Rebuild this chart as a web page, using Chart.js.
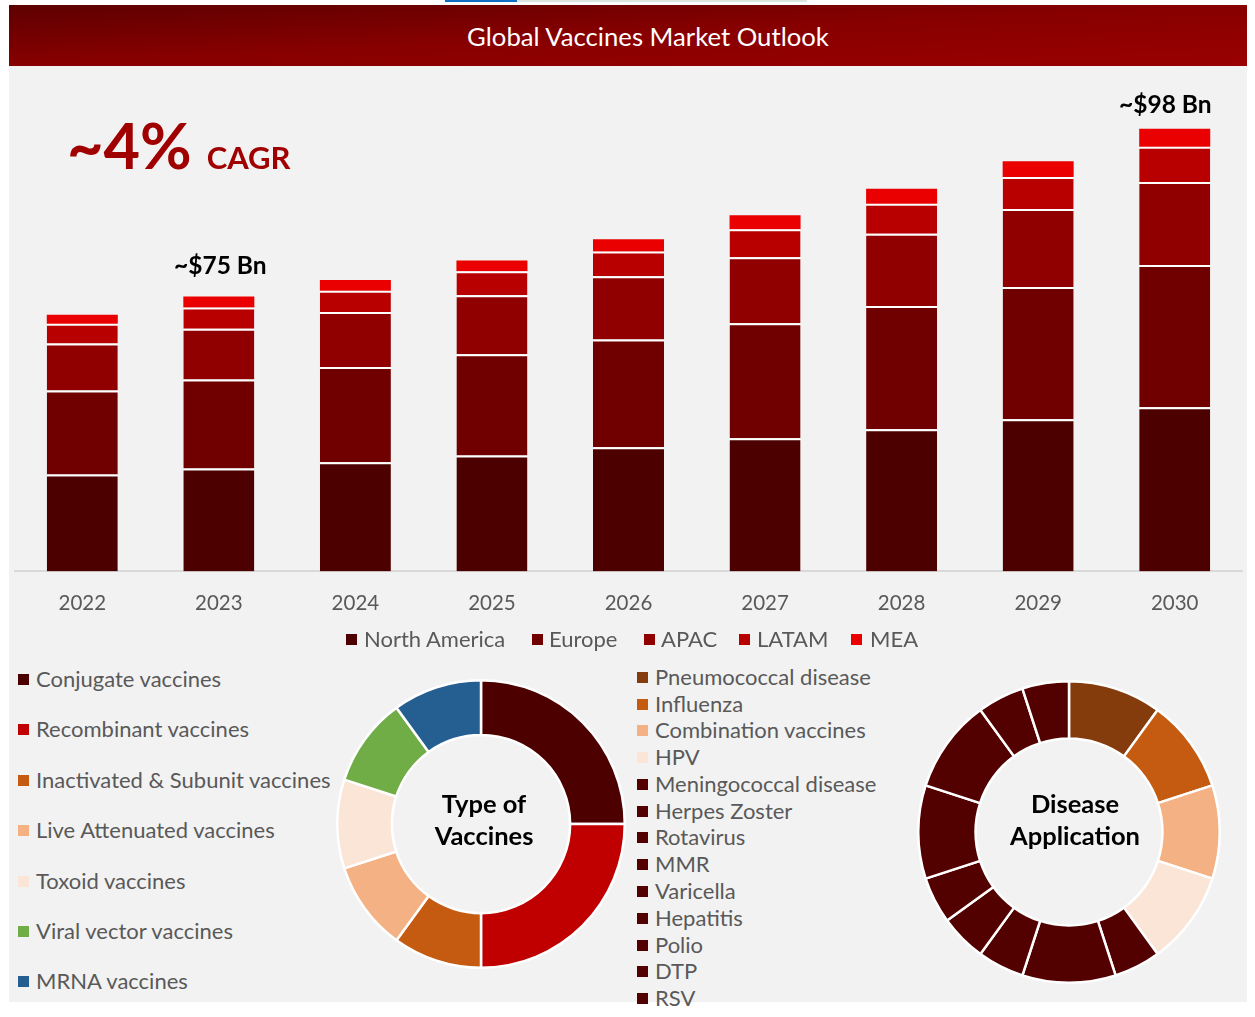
<!DOCTYPE html>
<html>
<head>
<meta charset="utf-8">
<title>Global Vaccines Market Outlook</title>
<script src="https://cdn.jsdelivr.net/npm/chart.js@4"></script>
<style>
  html, body { margin: 0; padding: 0; background: #fff; }
  body { position: relative; width: 1255px; height: 1017px; overflow: hidden; font-family: Lato, sans-serif; }
  .abs { position: absolute; white-space: nowrap; }
  #panel { left: 9px; top: 66px; width: 1238px; height: 936px; background: #f2f2f2; }
  #header { left: 9px; top: 5px; width: 1238px; height: 61px; line-height: 62px; text-align: center; color: #fff; font-size: 25.7px;
    text-indent: 40px; background: linear-gradient(to bottom right, #5e0000, #880000 50%, #9a0000); }
  #cagr { left: 67px; top: 105px; color: #a00000; font-weight: bold; font-size: 63px; line-height: 80px; }
  #cagr span { font-size: 31px; margin-left: 15px; }
  .total { color: #000; font-weight: bold; font-size: 24.5px; line-height: 30px; }
  .centre { color: #000; font-weight: bold; font-size: 25.5px; line-height: 32px; text-align: center; }
  .legend-item { color: #595959; font-size: 22px; line-height: 26px; }
  .legend-item i { position: absolute; width: 11px; height: 11px; top: 8px; }
  canvas { position: absolute; }
</style>
</head>
<body>
<div class="abs" style="left:445px;top:0;width:72px;height:2px;background:#0f6fc6"></div>
<div class="abs" style="left:517px;top:0;width:290px;height:2px;background:#dce6e0"></div>
<div class="abs" id="panel"></div>
<div class="abs" id="header">Global Vaccines Market Outlook</div>
<canvas id="barChart" style="left:14px;top:66px;width:1229px;height:570px"></canvas>
<div class="abs" id="cagr">~4%<span>CAGR</span></div>
<div class="abs total" style="left:174px;top:250px">~$75 Bn</div>
<div class="abs total" style="left:1119px;top:89px">~$98 Bn</div>
<canvas id="typeChart" style="left:336px;top:678.5px;width:290px;height:290px"></canvas>
<canvas id="diseaseChart" style="left:917px;top:680px;width:304px;height:304px"></canvas>
<div class="abs centre" style="left:380px;top:787px;width:208px">Type of<br>Vaccines</div>
<div class="abs centre" style="left:970px;top:787px;width:210px">Disease<br>Application</div>
<div id="regionLegend"></div>
<div id="typeLegend"></div>
<div id="diseaseLegend"></div>
<script>
const years = ['2022', '2023', '2024', '2025', '2026', '2027', '2028', '2029', '2030'];
const regions = ['North America', 'Europe', 'APAC', 'LATAM', 'MEA'];
const regionColors = ['#4d0000', '#700000', '#900000', '#b80000', '#ea0000'];
const northAmerica = [21.5, 22.8, 24.2, 25.7, 27.5, 29.5, 31.5, 33.7, 36.4];
const europe = [18.6, 19.7, 21.1, 22.4, 23.9, 25.5, 27.3, 29.3, 31.5];
const apac = [10.4, 11.3, 12.2, 13.1, 14.0, 14.6, 16.0, 17.3, 18.4];
const latam = [4.4, 4.7, 4.7, 5.3, 5.5, 6.2, 6.7, 7.1, 7.8];
const mea = [2.0, 2.4, 2.4, 2.4, 2.7, 3.1, 3.3, 3.5, 4.0];

const vaccineTypes = ['Conjugate vaccines', 'Recombinant vaccines', 'Inactivated & Subunit vaccines', 'Live Attenuated vaccines', 'Toxoid vaccines', 'Viral vector vaccines', 'MRNA vaccines'];
const vaccineShares = [25, 25, 10, 10, 10, 10, 10];
const vaccineColors = ['#4d0000', '#c00000', '#c55a11', '#f4b183', '#fbe5d6', '#70ad47', '#255e91'];

const diseases = ['Pneumococcal disease', 'Influenza', 'Combination vaccines', 'HPV', 'Meningococcal disease', 'Herpes Zoster', 'Rotavirus', 'MMR', 'Varicella', 'Hepatitis', 'Polio', 'DTP', 'RSV'];
const diseaseShares = [10, 10, 10, 10, 5, 10, 5, 5, 5, 10, 10, 5, 5];
const diseaseColors = ['#843c0c', '#c55a11', '#f4b183', '#fbe5d6', '#520000', '#520000', '#520000', '#520000', '#520000', '#520000', '#520000', '#520000', '#520000'];

function separator(width) {
  return { top: width, right: 0, bottom: 0, left: 0 };
}

function renderBars() {
  const series = [northAmerica, europe, apac, latam, mea];
  new Chart(document.getElementById('barChart'), {
    type: 'bar',
    data: {
      labels: years,
      datasets: series.map((values, i) => ({
        label: regions[i],
        data: values,
        backgroundColor: regionColors[i],
        borderColor: '#fff',
        borderWidth: i < series.length - 1 ? separator(2) : 0,
      })),
    },
    options: {
      responsive: false,
      animation: false,
      barPercentage: 0.52,
      categoryPercentage: 1,
      layout: { padding: 0 },
      plugins: { tooltip: { enabled: false }, legend: { display: false } },
      scales: {
        x: {
          stacked: true,
          grid: { display: false, drawTicks: false },
          border: { color: '#d9d9d9', width: 2 },
          ticks: { color: '#595959', font: { family: 'Lato', size: 20.5 }, padding: 20, maxRotation: 0 },
        },
        y: { stacked: true, display: false, min: 0, max: 112 },
      },
    },
  });
}

function renderDoughnut(id, labels, values, colors) {
  new Chart(document.getElementById(id), {
    type: 'doughnut',
    data: { labels, datasets: [{ data: values, backgroundColor: colors, borderColor: '#fff', borderWidth: 2.5 }] },
    options: {
      responsive: false,
      animation: false,
      cutout: '62%',
      plugins: { legend: { display: false }, tooltip: { enabled: false } },
    },
  });
}

function renderLegend(id, labels, colors, boxLefts, textLefts, tops) {
  document.getElementById(id).innerHTML = labels.map((label, i) => `
    <div class="abs legend-item" style="left:${textLefts[i]}px;top:${tops[i]}px">
      <i style="left:${boxLefts[i] - textLefts[i]}px;background:${colors[i]}"></i>${label.replace('&', '&amp;')}
    </div>`).join('');
}

renderBars();
renderDoughnut('typeChart', vaccineTypes, vaccineShares, vaccineColors);
renderDoughnut('diseaseChart', diseases, diseaseShares, diseaseColors);
renderLegend('regionLegend', regions, regionColors, [346, 532, 644, 739, 851], [364, 549, 661, 757, 870], Array(5).fill(626));
renderLegend('typeLegend', vaccineTypes, vaccineColors, Array(7).fill(18), Array(7).fill(36), [666, 716, 767, 817, 868, 918, 968]);
renderLegend('diseaseLegend', diseases, diseaseColors, Array(13).fill(637), Array(13).fill(655), [664, 691, 717, 744, 771, 798, 824, 851, 878, 905, 932, 958, 985]);
</script>
</body>
</html>
